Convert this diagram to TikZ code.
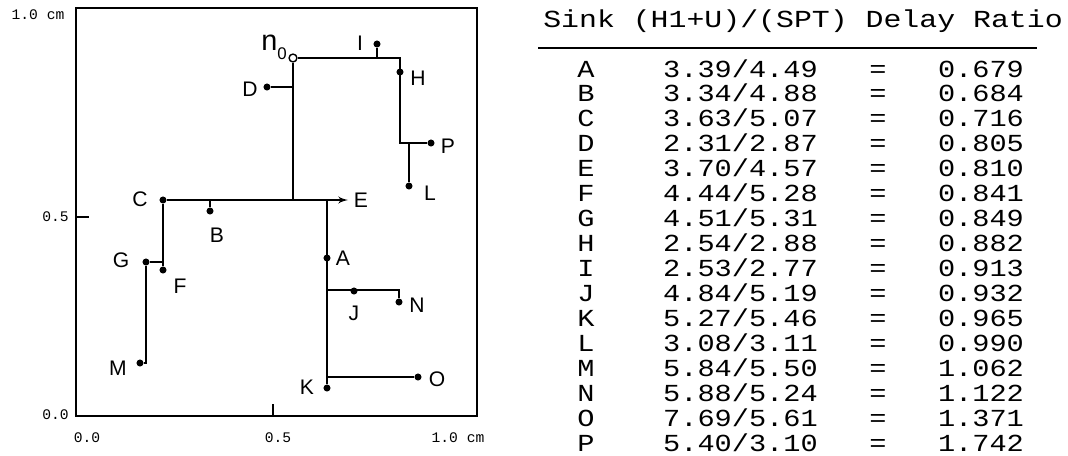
\documentclass[tikz,border=0pt]{standalone}
\usepackage{fontspec}
\setmainfont{Liberation Sans}
\newfontfamily\typefont{Liberation Mono}
\newfontfamily\tabfont[FakeStretch=1.17]{Liberation Mono}
\newfontfamily\headfont[FakeStretch=1.22]{Liberation Mono}
\usetikzlibrary{arrows, positioning}

\begin{document}
\begin{tikzpicture}[x=0.025cm, y=-0.025cm,
    sink/.style={circle, fill=black, inner sep=0pt, minimum size=5pt},
    root/.style={circle, draw, fill=white, line width=1pt, inner sep=0pt, minimum size=5.6pt},
    lbl/.style={inner sep=0pt, font=\fontsize{15pt}{15pt}\selectfont},
    axis/.style={inner sep=0pt, font=\typefont\fontsize{10.4pt}{11pt}\selectfont},
    wire/.style={draw, line width=1.4pt},
    row/.style={inner sep=0pt, text height=12pt, text depth=5.36pt, font=\tabfont\fontsize{17.4pt}{20pt}\selectfont}]

    \useasboundingbox (0,0) rectangle (1068,455);

    % frame and scale
    \draw [line width=1.6pt] (76,8) rectangle (477,416);
    \draw [line width=1.4pt] (76,217) -- (89,217);
    \draw [line width=1.4pt] (273,416) -- (273,404);
    \node [axis] (y1) at (38,15) {1.0 cm};
    \node [axis, anchor=east] (y5) at (69,217) {0.5};
    \node [axis, anchor=east] (y0) at (69,415) {0.0};
    \node [axis] (x0) at (87,438) {0.0};
    \node [axis] (x5) at (278,438) {0.5};
    \node [axis] (x1) at (458,438) {1.0 cm};

    % source and sinks
    \node [root] (n0) at (293,58) {};
    \node [sink] (A) at (327,258) {};
    \node [sink] (B) at (210,211) {};
    \node [sink] (C) at (163,200) {};
    \node [sink] (D) at (267,87) {};
    \coordinate (E) at (348,200);
    \node [sink] (F) at (163,270) {};
    \node [sink] (G) at (146,262) {};
    \node [sink] (H) at (400,72) {};
    \node [sink] (I) at (377,44) {};
    \node [sink] (J) at (354,291) {};
    \node [sink] (K) at (327,388) {};
    \node [sink] (L) at (409,186) {};
    \node [sink] (M) at (140,363) {};
    \node [sink] (N) at (399,302) {};
    \node [sink] (O) at (418,377) {};
    \node [sink] (P) at (431,143) {};

    % steiner points
    \coordinate (hk) at (400,58);
    \coordinate (pk) at (400,143);
    \coordinate (lk) at (409,143);
    \coordinate (ik) at (377,58);
    \coordinate (dk) at (293,87);
    \coordinate (tk) at (293,200);
    \coordinate (bk) at (210,200);
    \coordinate (gk) at (163,262);
    \coordinate (mk) at (146,363);
    \coordinate (ak) at (327,200);
    \coordinate (jk) at (327,290);
    \coordinate (nk) at (399,290);
    \coordinate (ok) at (327,377);

    \path [wire] (n0) -- (hk) -- (pk) -- (P);
    \path [wire] (ik) -- (I);
    \path [wire] (lk) -- (L);
    \path [wire] (n0) -- (tk);
    \path [wire] (dk) -- (D);
    \path [wire, -latex'] (C) -- (E);
    \path [wire] (bk) -- (B);
    \path [wire] (C) -- (F);
    \path [wire] (gk) -- (G);
    \path [wire] (G) -- (mk) -- (M);
    \path [wire] (ak) -- (K);
    \path [wire] (jk) -- (nk) -- (N);
    \path [wire] (ok) -- (O);

    % labels
    \node [lbl, anchor=base east] (ln0) at (287,50) {\fontsize{20.5pt}{20pt}\selectfont n\raisebox{-7pt}{\fontsize{12pt}{12pt}\selectfont 0}};
    \node [lbl] (lA) at (343,258) {A};
    \node [lbl] (lB) at (217,235) {B};
    \node [lbl] (lC) at (140,199) {C};
    \node [lbl] (lD) at (250,89) {D};
    \node [lbl] (lE) at (361,200) {E};
    \node [lbl] (lF) at (180,286) {F};
    \node [lbl] (lG) at (121,260) {G};
    \node [lbl] (lH) at (418,78) {H};
    \node [lbl] (lI) at (360,43) {I};
    \node [lbl] (lJ) at (354,313) {J};
    \node [lbl] (lK) at (307,387) {K};
    \node [lbl] (lL) at (430,193) {L};
    \node [lbl] (lM) at (118,368) {M};
    \node [lbl] (lN) at (417,305) {N};
    \node [lbl] (lO) at (437,379) {O};
    \node [lbl] (lP) at (448,146) {P};

    % delay table
    \node [inner sep=0pt, anchor=base west, font=\headfont\fontsize{17.4pt}{20pt}\selectfont] (head) at (543,27) {Sink (H1+U)/(SPT) Delay Ratio};
    \draw [line width=1.3pt] (538,48) -- (1037,48);
    \node [row, anchor=base west] (rA) at (577,77) {A~~~~3.39/4.49~~~=~~~0.679};
    \node [row, below=0pt of rA] (rB) {B~~~~3.34/4.88~~~=~~~0.684};
    \node [row, below=0pt of rB] (rC) {C~~~~3.63/5.07~~~=~~~0.716};
    \node [row, below=0pt of rC] (rD) {D~~~~2.31/2.87~~~=~~~0.805};
    \node [row, below=0pt of rD] (rE) {E~~~~3.70/4.57~~~=~~~0.810};
    \node [row, below=0pt of rE] (rF) {F~~~~4.44/5.28~~~=~~~0.841};
    \node [row, below=0pt of rF] (rG) {G~~~~4.51/5.31~~~=~~~0.849};
    \node [row, below=0pt of rG] (rH) {H~~~~2.54/2.88~~~=~~~0.882};
    \node [row, below=0pt of rH] (rI) {I~~~~2.53/2.77~~~=~~~0.913};
    \node [row, below=0pt of rI] (rJ) {J~~~~4.84/5.19~~~=~~~0.932};
    \node [row, below=0pt of rJ] (rK) {K~~~~5.27/5.46~~~=~~~0.965};
    \node [row, below=0pt of rK] (rL) {L~~~~3.08/3.11~~~=~~~0.990};
    \node [row, below=0pt of rL] (rM) {M~~~~5.84/5.50~~~=~~~1.062};
    \node [row, below=0pt of rM] (rN) {N~~~~5.88/5.24~~~=~~~1.122};
    \node [row, below=0pt of rN] (rO) {O~~~~7.69/5.61~~~=~~~1.371};
    \node [row, below=0pt of rO] (rP) {P~~~~5.40/3.10~~~=~~~1.742};
\end{tikzpicture}
\end{document}
